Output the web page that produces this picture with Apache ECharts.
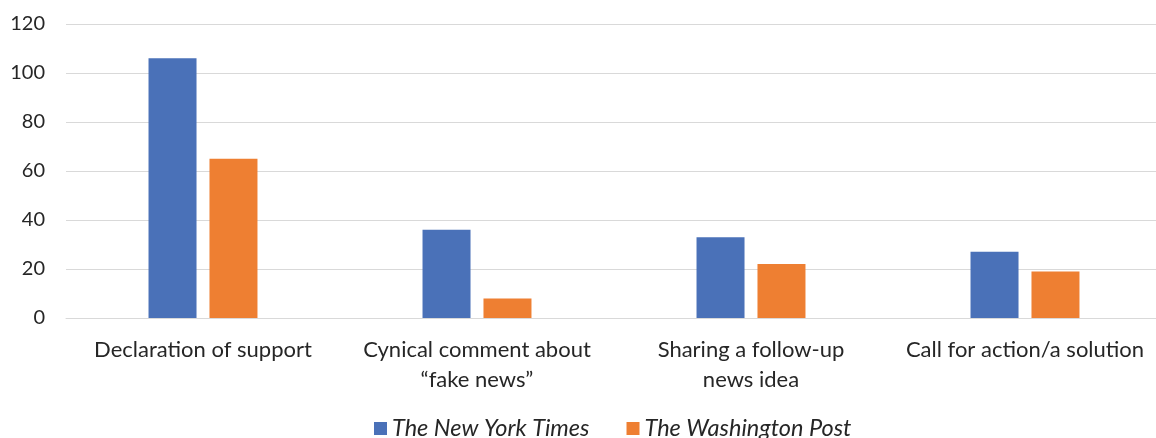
<!DOCTYPE html>
<html><head><meta charset="utf-8">
<script src="https://cdn.jsdelivr.net/npm/echarts@6/dist/echarts.min.js"></script>
<style>html,body{margin:0;padding:0;background:#fff;overflow:hidden}#c{width:1170px;height:438px}</style>
</head><body><div id="c"></div>
<script>
const categories = ['Declaration of support', 'Cynical comment about\n\u201cfake news\u201d', 'Sharing a follow-up\nnews idea', 'Call for action/a solution'];
const seriesNames = ['The New York Times', 'The Washington Post'];
const nytValues = [106, 36, 33, 27];
const wapoValues = [65, 8, 22, 19];
const yTicks = [0, 20, 40, 60, 80, 100, 120];

const FONT = 'Lato, "Open Sans", sans-serif';
const chart = echarts.init(document.getElementById('c'), null, {renderer: 'canvas'});
chart.setOption({
  animation: false,
  grid: {left: 66, right: 8, top: 24, height: 294, containLabel: false},
  legend: {
    left: 369, bottom: -7, itemWidth: 13, itemHeight: 13, itemGap: 37,
    icon: 'rect',
    textStyle: {fontFamily: FONT, fontStyle: 'italic', fontSize: 23.5, color: '#262626'},
    data: seriesNames
  },
  xAxis: {
    type: 'category', data: categories,
    axisLine: {show: true, lineStyle: {color: '#D9D9D9', width: 1}},
    axisTick: {show: false},
    axisLabel: {fontFamily: FONT, fontSize: 22, color: '#262626', margin: 17, lineHeight: 30, interval: 0}
  },
  yAxis: {
    type: 'value', min: yTicks[0], max: yTicks[yTicks.length - 1], interval: 20,
    axisLine: {show: false}, axisTick: {show: false},
    splitLine: {lineStyle: {color: '#D9D9D9', width: 1}},
    axisLabel: {fontFamily: FONT, fontSize: 20, color: '#262626', margin: 21}
  },
  series: [
    {name: seriesNames[0], type: 'bar', data: nytValues, barWidth: 48, barGap: '27%', itemStyle: {color: '#4A71B8'}},
    {name: seriesNames[1], type: 'bar', data: wapoValues, barWidth: 48, barGap: '27%', itemStyle: {color: '#EE7F32'}}
  ]
});
</script></body></html>
